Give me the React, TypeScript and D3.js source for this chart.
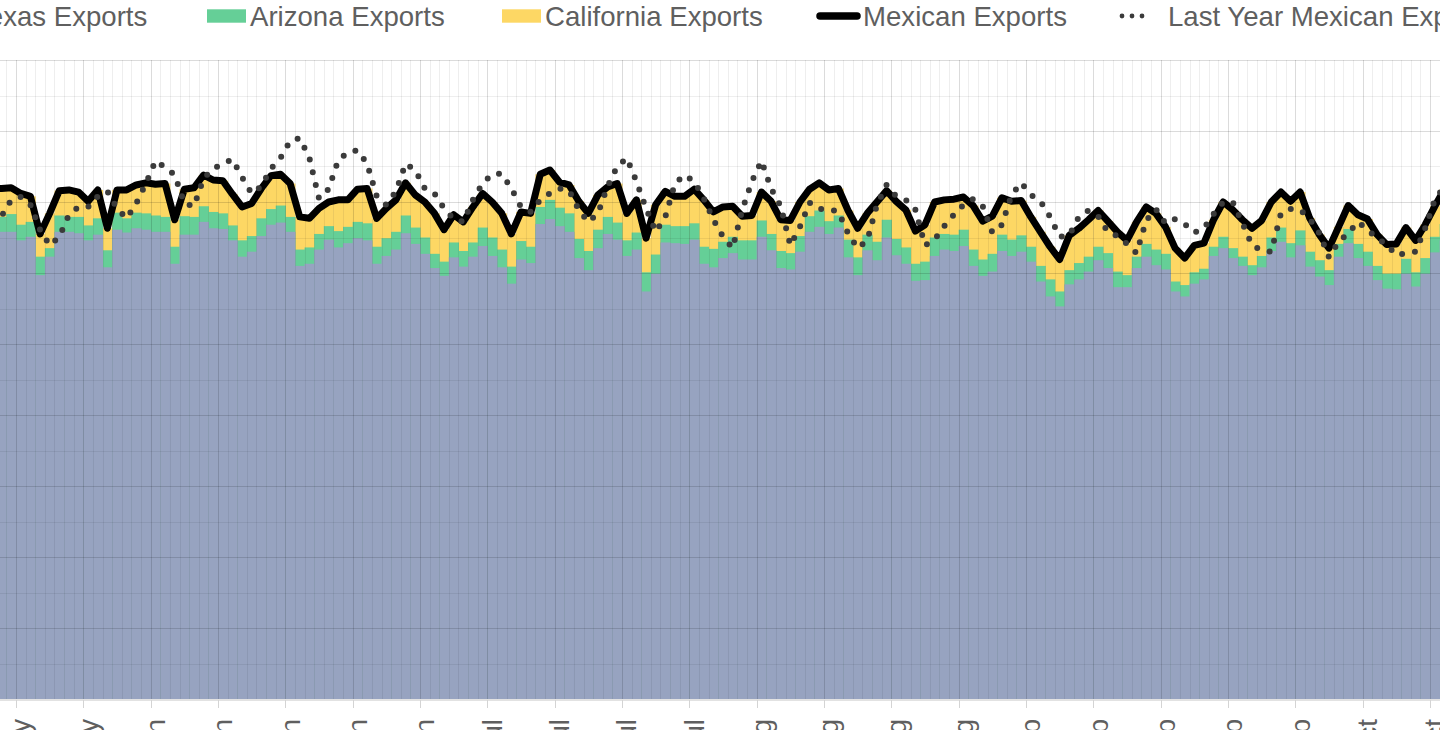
import React, { useEffect, useRef } from 'react';
import * as d3 from 'd3';

// daily values, the first entry is 16 May 2019
const firstDay = new Date(2019, 4, 16);

const texasExports = [
  658,
  658, 658, 646, 651, 597, 623, 658, 658, 656, 646,
  654, 608, 661, 657, 663, 661, 658, 658, 613, 654,
  654, 672, 663, 662, 646, 623, 630, 652, 668, 671,
  658, 610, 613, 633, 647, 636, 642, 649, 646, 613,
  624, 633, 656, 641, 627, 607, 596, 622, 609, 623,
  638, 624, 608, 585, 619, 614, 669, 676, 666, 658,
  621, 604, 635, 655, 647, 624, 633, 574, 599, 643,
  642, 641, 647, 613, 608, 621, 628, 619, 619, 651,
  632, 607, 605, 630, 658, 665, 655, 664, 622, 597,
  632, 618, 650, 625, 613, 589, 590, 624, 633, 631,
  638, 610, 596, 602, 631, 624, 630, 616, 588, 567,
  553, 584, 591, 602, 618, 607, 580, 580, 607, 623,
  611, 605, 574, 567, 585, 591, 624, 635, 621, 610,
  597, 608, 631, 644, 622, 639, 609, 595, 583, 623,
  642, 621, 610, 590, 578, 577, 599, 581, 599, 629,
  646,
];

const arizonaExports = [
  21,
  21, 25, 22, 21, 26, 12, 23, 21, 23, 21,
  23, 24, 24, 20, 22, 23, 23, 21, 24, 26,
  25, 22, 23, 22, 21, 23, 22, 25, 22, 24,
  21, 23, 23, 22, 19, 23, 23, 23, 24, 24,
  25, 25, 25, 23, 23, 20, 20, 21, 22, 20,
  26, 26, 25, 24, 26, 23, 24, 27, 26, 26,
  27, 27, 26, 24, 24, 22, 24, 27, 27, 25,
  24, 25, 23, 24, 26, 23, 23, 27, 27, 23,
  23, 24, 23, 22, 22, 23, 18, 17, 25, 25,
  22, 26, 25, 23, 23, 24, 26, 26, 22, 23,
  23, 23, 23, 25, 23, 23, 23, 21, 22, 24,
  21, 20, 23, 21, 19, 21, 22, 17, 16, 18,
  22, 22, 14, 16, 16, 15, 13, 16, 14, 13,
  14, 16, 19, 20, 20, 21, 21, 23, 21, 18,
  20, 20, 20, 20, 21, 22, 21, 20, 22, 22,
  23,
];

const californiaExports = [
  40,
  40, 37, 44, 36, 32, 49, 35, 38, 35, 34,
  40, 31, 32, 40, 39, 43, 44, 47, 38, 38,
  41, 44, 45, 46, 44, 47, 46, 42, 47, 44,
  47, 46, 41, 36, 34, 44, 38, 46, 49, 40,
  42, 45, 46, 46, 50, 57, 45, 39, 41, 50,
  48, 50, 51, 46, 41, 47, 46, 42, 36, 40,
  53, 53, 49, 42, 55, 38, 46, 48, 70, 47,
  42, 42, 48, 66, 52, 49, 43, 34, 35, 40,
  46, 44, 46, 48, 38, 39, 44, 38, 41, 41,
  30, 56, 41, 53, 53, 46, 52, 50, 48, 50,
  46, 62, 54, 53, 52, 54, 49, 42, 48, 46,
  45, 49, 49, 52, 51, 45, 56, 49, 49, 52,
  51, 38, 47, 38, 38, 36, 38, 49, 54, 52,
  52, 50, 50, 50, 59, 54, 47, 36, 31, 24,
  33, 41, 46, 44, 41, 42, 44, 45, 47, 43,
  49,
];

const lastYearMexicanExports = [
  675,
  680, 703, 707, 696, 661, 639, 651, 682, 693, 693,
  708, 715, 691, 677, 698, 726, 758, 749, 738, 698,
  694, 733, 747, 754, 760, 735, 712, 722, 747, 762,
  786, 790, 762, 705, 718, 759, 770, 773, 754, 708,
  696, 715, 754, 745, 719, 712, 691, 676, 672, 703,
  726, 739, 740, 719, 693, 686, 703, 712, 719, 716,
  689, 672, 684, 722, 750, 762, 729, 691, 658, 679,
  726, 738, 729, 705, 675, 651, 635, 689, 729, 758,
  719, 694, 639, 665, 699, 690, 690, 686, 656, 635,
  646, 696, 724, 708, 703, 689, 639, 647, 666, 682,
  696, 704, 694, 657, 668, 710, 727, 710, 701, 679,
  651, 653, 679, 688, 680, 658, 652, 641, 628, 674,
  690, 670, 676, 669, 657, 663, 683, 700, 700, 670,
  639, 632, 630, 684, 690, 689, 676, 656, 622, 644,
  656, 672, 661, 649, 640, 625, 628, 630, 663, 703,
  722,
];

const stackKeys = ['texas', 'arizona', 'california'];
const barColors = ['#97a3c0', '#65cf97', '#fdd764'];

const legendItems = [
  { label: 'Texas Exports', kind: 'box', color: '#97a3c0', x: -69 },
  { label: 'Arizona Exports', kind: 'box', color: '#65cf97', x: 207 },
  { label: 'California Exports', kind: 'box', color: '#fdd764', x: 502 },
  { label: 'Mexican Exports', kind: 'line', color: '#000', x: 818 },
  { label: 'Last Year Mexican Exports', kind: 'dots', color: '#3b3b3b', x: 1122 },
];

const ExportsChart: React.FC = () => {
  const svgRef = useRef<SVGSVGElement>(null);

  useEffect(() => {
    if (!svgRef.current) return;
    const svg = d3.select(svgRef.current);
    svg.selectAll('*').remove();

    const top = 60;
    const bottom = 699;
    const font = '"Liberation Sans", Arial, sans-serif';

    const rows = texasExports.map((v, i) => ({
      date: d3.timeDay.offset(firstDay, i),
      texas: v,
      arizona: arizonaExports[i],
      california: californiaExports[i],
      lastYear: lastYearMexicanExports[i],
    }));

    // the view is scrolled: 19 May sits at x=16, 13 Oct at x=1430
    const x = d3.scaleTime()
      .domain([new Date(2019, 4, 19), new Date(2019, 9, 13)])
      .range([16, 1430]);
    const y = d3.scaleLinear().domain([0, 900]).range([bottom, top]);

    const next = (d: Date) => d3.timeDay.offset(d, 1);
    const mid = (d: Date) => (x(d) + x(next(d))) / 2;

    const layers = d3.stack<any>().keys(stackKeys)(rows);

    // the chart canvas ends a little above the window bottom
    svg.append('defs').append('clipPath').attr('id', 'canvas-clip')
      .append('rect').attr('x', 0).attr('y', 0).attr('width', 1440).attr('height', 730);

    // bars: draw from the top layer down so the seams do not show
    const barsG = svg.append('g');
    [...layers].reverse().forEach((layer) => {
      barsG.append('g')
        .attr('fill', barColors[layer.index])
        .selectAll('rect')
        .data(layer)
        .join('rect')
        .attr('x', (d: any) => x(d.data.date))
        .attr('width', (d: any) => x(next(d.data.date)) - x(d.data.date) + 0.5)
        .attr('y', (d: any) => y(d[1]))
        .attr('height', (d: any) => y(0) - y(d[1]));
    });

    // grid, semi transparent so it darkens the bars too
    const gridG = svg.append('g').attr('shape-rendering', 'crispEdges');
    const majorDays = d3.timeSunday.range(new Date(2019, 4, 10), new Date(2019, 9, 21));
    const majorSet = new Set(majorDays.map((d) => +d));
    const minorDays = d3.timeDay.range(new Date(2019, 4, 10), new Date(2019, 9, 21))
      .filter((d) => !majorSet.has(+d));

    gridG.selectAll('line.vminor').data(minorDays).join('line')
      .attr('x1', (d) => Math.round(x(d))).attr('x2', (d) => Math.round(x(d)))
      .attr('y1', top).attr('y2', bottom)
      .attr('stroke', 'rgba(0,0,0,0.065)');
    gridG.selectAll('line.vmajor').data(majorDays).join('line')
      .attr('x1', (d) => Math.round(x(d))).attr('x2', (d) => Math.round(x(d)))
      .attr('y1', top).attr('y2', bottom)
      .attr('stroke', 'rgba(0,0,0,0.14)');

    const yMajor = y.ticks(9);
    const yMinor = d3.range(50, 900, 100);
    gridG.selectAll('line.hminor').data(yMinor).join('line')
      .attr('x1', 0).attr('x2', 1440)
      .attr('y1', (d) => Math.round(y(d))).attr('y2', (d) => Math.round(y(d)))
      .attr('stroke', 'rgba(0,0,0,0.065)');
    gridG.selectAll('line.hmajor').data(yMajor.filter((d) => d > 0)).join('line')
      .attr('x1', 0).attr('x2', 1440)
      .attr('y1', (d) => Math.round(y(d))).attr('y2', (d) => Math.round(y(d)))
      .attr('stroke', 'rgba(0,0,0,0.14)');

    // x axis
    const axisG = svg.append('g');
    axisG.append('line')
      .attr('x1', 0).attr('x2', 1440)
      .attr('y1', bottom + 1).attr('y2', bottom + 1)
      .attr('stroke', '#d9d9d9').attr('stroke-width', 1.6);
    axisG.selectAll('line.tick').data(majorDays).join('line')
      .attr('x1', (d) => Math.round(x(d)) + 0.5).attr('x2', (d) => Math.round(x(d)) + 0.5)
      .attr('y1', bottom + 1).attr('y2', bottom + 9)
      .attr('stroke', '#d4d4d4');
    const fmt = d3.timeFormat('%-d %b');
    axisG.append('g').attr('clip-path', 'url(#canvas-clip)')
      .selectAll('text').data(majorDays).join('text')
      .attr('transform', (d) => `translate(${x(d)},719) rotate(-90)`)
      .attr('dy', 14.3)
      .attr('text-anchor', 'end')
      .attr('font-family', font)
      .attr('font-size', 27.6)
      .attr('fill', '#5f5f5f')
      .text((d) => fmt(d));

    // lines
    const totalLine = d3.line<any>()
      .x((d) => mid(d.data.date))
      .y((d) => y(d[1]));
    svg.append('path')
      .datum(layers[2])
      .attr('d', totalLine)
      .attr('fill', 'none')
      .attr('stroke', '#000')
      .attr('stroke-width', 7)
      .attr('stroke-linejoin', 'round');

    const lastYearLine = d3.line<any>()
      .x((d) => mid(d.date))
      .y((d) => y(d.lastYear));
    svg.append('path')
      .datum(rows)
      .attr('d', lastYearLine)
      .attr('fill', 'none')
      .attr('stroke', '#3b3b3b')
      .attr('stroke-width', 6)
      .attr('stroke-linecap', 'round')
      .attr('stroke-dasharray', '0 13');

    // legend
    const legendG = svg.append('g');
    legendItems.forEach((item) => {
      let textX = item.x + 43;
      if (item.kind === 'box') {
        legendG.append('rect')
          .attr('x', item.x).attr('y', 9.3)
          .attr('width', 39).attr('height', 13.4)
          .attr('fill', item.color);
      } else if (item.kind === 'line') {
        legendG.append('line')
          .attr('x1', item.x + 2).attr('x2', item.x + 39)
          .attr('y1', 16).attr('y2', 16)
          .attr('stroke', item.color).attr('stroke-width', 7.5)
          .attr('stroke-linecap', 'round');
        textX = item.x + 45;
      } else {
        legendG.append('line')
          .attr('x1', item.x).attr('x2', item.x + 20.5)
          .attr('y1', 16).attr('y2', 16)
          .attr('stroke', item.color).attr('stroke-width', 4.8)
          .attr('stroke-linecap', 'round')
          .attr('stroke-dasharray', '0 10');
        textX = item.x + 46;
      }
      legendG.append('text')
        .attr('x', textX).attr('y', 25.5)
        .attr('font-family', font)
        .attr('font-size', 27.6)
        .attr('fill', '#5f5f5f')
        .text(item.label);
    });
  }, []);

  return (
    <div style={{ position: 'absolute', left: 0, top: 0, width: 1440, height: 736, background: '#fff', overflow: 'hidden' }}>
      <svg ref={svgRef} width={1440} height={736} style={{ display: 'block' }} />
    </div>
  );
};

export default function App() {
  return <ExportsChart />;
}
